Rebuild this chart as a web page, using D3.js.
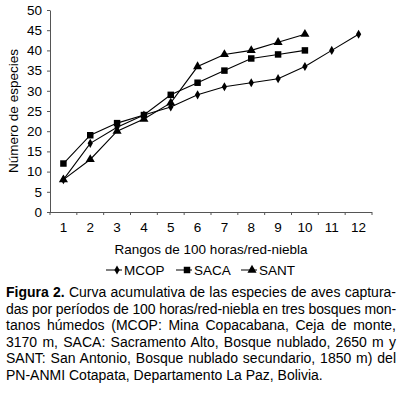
<!DOCTYPE html>
<html>
<head>
<meta charset="utf-8">
<script src="https://cdn.jsdelivr.net/npm/d3@7"></script>
<style>
  body { margin: 0; background: #fff; }
  svg { display: block; font-family: "Liberation Sans", Arial, sans-serif; }
  .axis path, .axis line { stroke: #555; }
  .axis text { font-size: 13.5px; fill: #000; font-family: "Liberation Sans", Arial, sans-serif; }
</style>
</head>
<body>
<div id="chart"></div>
<script>
// categories: rangos de 100 horas/red-niebla
var rangos = [1, 2, 3, 4, 5, 6, 7, 8, 9, 10, 11, 12];
// species counts per site
var mcop = [8, 17, 21, 24, 26, 29, 31, 32, 33, 36, 40, 44];
var saca = [12, 19, 22, 24, 29, 32, 35, 38, 39, 40];
var sant = [8, 13, 20, 23, 27, 36, 39, 40, 42, 44];
var yTicks = [0, 5, 10, 15, 20, 25, 30, 35, 40, 45, 50];

var captionLines = [
  "Curva acumulativa de las especies de aves captura-",
  "das por períodos de 100 horas/red-niebla en tres bosques mon-",
  "tanos húmedos (MCOP: Mina Copacabana, Ceja de monte,",
  "3170 m, SACA: Sacramento Alto, Bosque nublado, 2650 m y",
  "SANT: San Antonio, Bosque nublado secundario, 1850 m) del",
  "PN-ANMI Cotapata, Departamento La Paz, Bolivia."
];

var W = 400, H = 394;
var plot = { left: 50, right: 372, top: 10, bottom: 212 };

var svg = d3.select('#chart').append('svg')
  .attr('width', W).attr('height', H);

var x = d3.scaleBand().domain(rangos).range([plot.left, plot.right]);
var y = d3.scaleLinear().domain([0, 50]).range([plot.bottom, plot.top]);
var cx = function (d) { return x(d) + x.bandwidth() / 2; };

// axes
svg.append('g')
  .attr('class', 'axis')
  .attr('transform', 'translate(' + plot.left + ',0)')
  .call(d3.axisLeft(y).tickValues(yTicks).tickSize(3).tickPadding(5).tickSizeOuter(0));

var xa = svg.append('g')
  .attr('class', 'axis')
  .attr('transform', 'translate(0,' + plot.bottom + ')')
  .call(d3.axisBottom(x).tickSize(0).tickPadding(10));
xa.select('.domain').attr('d', 'M' + plot.left + ',0.5H' + plot.right);
// tick marks between categories
xa.selectAll('.sep').data(d3.range(rangos.length + 1)).enter().append('line')
  .attr('class', 'sep')
  .attr('x1', function (i) { return plot.left + i * x.step(); })
  .attr('x2', function (i) { return plot.left + i * x.step(); })
  .attr('y1', 0).attr('y2', 3)
  .attr('stroke', '#555');

// axis titles
svg.append('text')
  .attr('transform', 'translate(18,111) rotate(-90)')
  .attr('text-anchor', 'middle')
  .style('font-size', '13.5px')
  .text('Número de especies');

svg.append('text')
  .attr('x', 211).attr('y', 254)
  .attr('text-anchor', 'middle')
  .style('font-size', '13.5px')
  .text('Rangos de 100 horas/red-niebla');

// series
var series = [
  { name: 'MCOP', values: mcop, sym: d3.symbolDiamond, size: 24 },
  { name: 'SACA', values: saca, sym: d3.symbolSquare, size: 42 },
  { name: 'SANT', values: sant, sym: d3.symbolTriangle, size: 36 }
];

var line = d3.line()
  .x(function (d, i) { return cx(rangos[i]); })
  .y(function (d) { return y(d); });

series.forEach(function (s) {
  svg.append('path')
    .attr('d', line(s.values))
    .attr('fill', 'none')
    .attr('stroke', '#000')
    .attr('stroke-width', 1.1);
  svg.selectAll(null).data(s.values).enter().append('path')
    .attr('d', d3.symbol().type(s.sym).size(s.size))
    .attr('transform', function (d, i) { return 'translate(' + cx(rangos[i]) + ',' + y(d) + ')'; })
    .attr('fill', '#000');
});

// legend
var legX = [106, 176, 241];
var lg = svg.append('g').attr('transform', 'translate(0,270)');
series.forEach(function (s, i) {
  var g = lg.append('g').attr('transform', 'translate(' + legX[i] + ',0)');
  g.append('line').attr('x1', 0).attr('x2', 16).attr('y1', 0).attr('y2', 0).attr('stroke', '#000');
  g.append('path').attr('d', d3.symbol().type(s.sym).size(s.size))
    .attr('transform', 'translate(11,0)').attr('fill', '#000');
  g.append('text').attr('x', 18).attr('y', 4.5).style('font-size', '13.5px').text(s.name);
});

// caption, justified line by line
var capLeft = 6, capRight = 396, capTop = 297, capStep = 16.6;
var cap = svg.append('g').style('font-size', '14px');
captionLines.forEach(function (t, i) {
  var txt = cap.append('text').attr('x', capLeft).attr('y', capTop + i * capStep);
  if (i === 0) {
    txt.append('tspan').style('font-weight', 'bold').text('Figura 2.');
    txt.append('tspan').text(' ' + t);
  } else {
    txt.text(t);
  }
  var full = (i === 0 ? 'Figura 2. ' : '') + t;
  var len = txt.node().getComputedTextLength();
  var room = capRight - capLeft - len;
  if (room < 0) {
    txt.style('letter-spacing', (room / full.length) + 'px');
  } else if (i < captionLines.length - 1) {
    var gaps = (full.match(/ /g) || []).length;
    txt.style('word-spacing', (room / gaps) + 'px');
  }
});
</script>
</body>
</html>
